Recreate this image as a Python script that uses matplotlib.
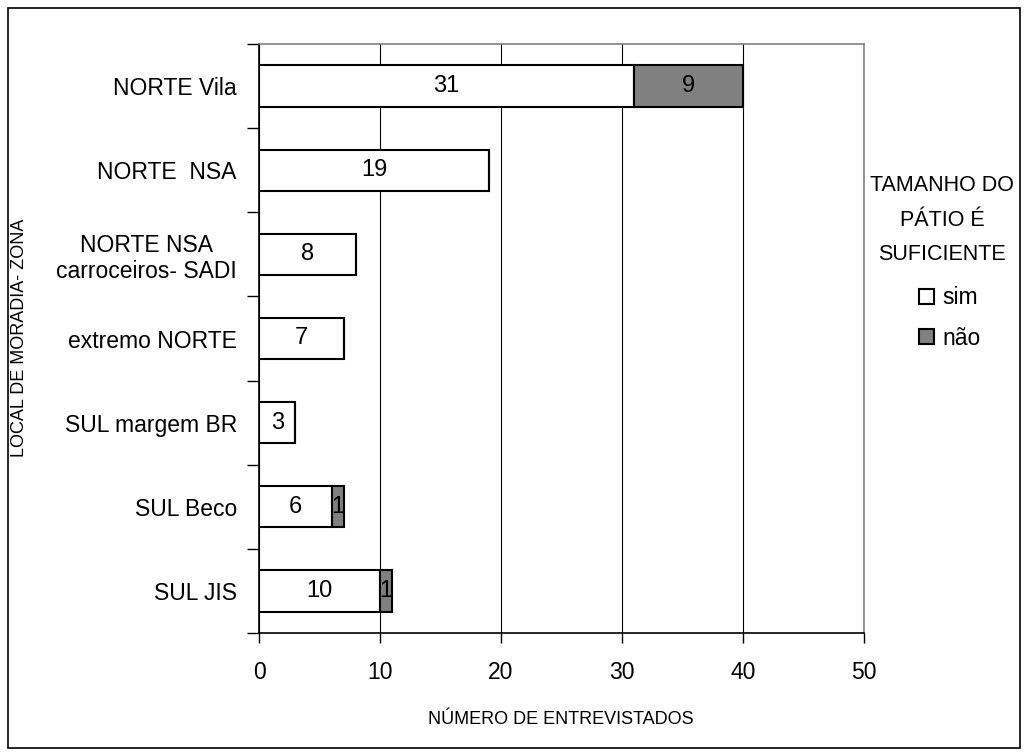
import matplotlib
matplotlib.use('Agg')
import matplotlib.pyplot as plt
from matplotlib.patches import Rectangle
import numpy as np

plt.rcParams['font.family'] = ['Liberation Sans', 'DejaVu Sans']

# data, top to bottom
locais = ['NORTE Vila', 'NORTE  NSA', 'NORTE NSA\ncarroceiros- SADI',
          'extremo NORTE', 'SUL margem BR', 'SUL Beco', 'SUL JIS']
sim = [31, 19, 8, 7, 3, 6, 10]
nao = [9, 0, 0, 0, 0, 1, 1]

fig = plt.figure(figsize=(10.27, 7.56), dpi=100)
ax = fig.add_axes([259 / 1027, 1 - 633 / 756, (864 - 259) / 1027, (633 - 44) / 756])

y = np.arange(len(locais))[::-1]
b1 = ax.barh(y, sim, height=0.49, color='white', edgecolor='black', linewidth=1.5, zorder=3)
b2 = ax.barh(y, nao, left=sim, height=0.49, color='#808080', edgecolor='black', linewidth=1.5, zorder=3)

# value labels inside the bars
for yi, s, n in zip(y, sim, nao):
    ax.text(s / 2, yi, str(s), ha='center', va='center', fontsize=17, zorder=4)
    if n > 0:
        ax.text(s + n / 2, yi, str(n), ha='center', va='center', fontsize=17, zorder=4)

ax.set_xlim(0, 50)
ax.set_ylim(-0.5, len(locais) - 0.5)
ax.set_xticks([0, 10, 20, 30, 40, 50])
ax.xaxis.grid(True, color='black', linewidth=0.8, zorder=0)
ax.set_axisbelow(True)
ax.tick_params(axis='x', direction='out', length=7, width=1, labelsize=16.5, pad=13)

ax.set_yticks(y)
ax.set_yticklabels(locais, multialignment='center')
ax.set_yticks(np.arange(-0.5, len(locais)), minor=True)
ax.tick_params(axis='y', which='major', length=0, labelsize=16.5, pad=16)
ax.tick_params(axis='y', which='minor', length=9, width=1)

ax.spines['top'].set_color('#808080')
ax.spines['right'].set_color('#808080')
for s in ax.spines.values():
    s.set_linewidth(1.2)

fig.text(561 / 1027, 1 - 720 / 756, 'NÚMERO DE ENTREVISTADOS', ha='center', va='center', fontsize=13)
fig.text(20 / 1027, 1 - 338 / 756, 'LOCAL DE MORADIA- ZONA', ha='center', va='center',
         rotation=90, fontsize=13)

# legend title drawn as text, entries as a legend
fig.text(942 / 1027, 1 - 220 / 756, 'TAMANHO DO\nPÁTIO É\nSUFICIENTE', ha='center', va='center',
         fontsize=15.5, linespacing=1.85)
fig.legend([b1, b2], ['sim', 'não'], loc='center', bbox_to_anchor=(950 / 1027, 1 - 318 / 756),
           frameon=False, fontsize=16.5, handlelength=0.65, handleheight=0.65,
           handletextpad=0.35, labelspacing=0.75)

# outer border of the chart
fig.patches.append(Rectangle((8 / 1027, 8 / 756), 1012 / 1027, 740 / 756, transform=fig.transFigure,
                             fill=False, edgecolor='black', linewidth=1.2))

plt.savefig('out.png')
